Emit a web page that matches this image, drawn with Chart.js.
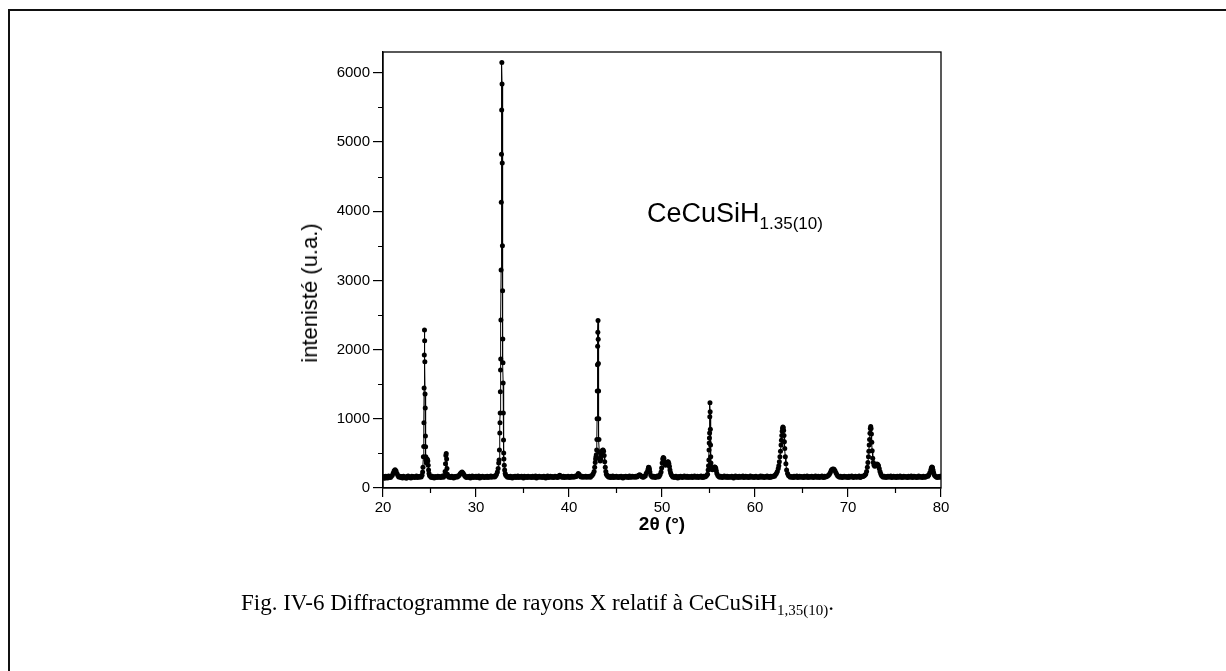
<!DOCTYPE html>
<html>
<head>
<meta charset="utf-8">
<script src="https://cdn.jsdelivr.net/npm/chart.js@4.4.1/dist/chart.umd.min.js"></script>
<style>
html,body{margin:0;padding:0;background:#fff;}
#wrap{position:relative;width:1226px;height:671px;overflow:hidden;background:#fff;}
#frame{position:absolute;left:8px;top:9px;width:1400px;height:800px;border-top:2px solid #111;border-left:2px solid #111;}
#c{position:absolute;left:0;top:0;}
#anno{position:absolute;left:647px;top:200px;font-family:"Liberation Sans",Arial,sans-serif;font-size:27px;line-height:27px;color:#000;white-space:nowrap;}
#anno span{font-size:17px;position:relative;top:7px;}
#ytitle{position:absolute;left:310px;top:293px;transform:translate(-50%,-50%) rotate(-90deg);font-family:"Liberation Sans",Arial,sans-serif;font-size:22px;line-height:22px;color:#000;white-space:nowrap;}
#caption{position:absolute;left:241px;top:591px;font-family:"Liberation Serif","Times New Roman",serif;font-size:23px;line-height:23px;color:#000;white-space:nowrap;}
#caption span.sub{font-size:15px;position:relative;top:5px;}
</style>
</head>
<body>
<div id="wrap">
  <div id="frame"></div>
  <canvas id="c" width="1226" height="671"></canvas>
  <div id="anno">CeCuSiH<span>1.35(10)</span></div>
  <div id="ytitle">intenisté (u.a.)</div>
  <div id="caption">Fig. IV-6 Diffractogramme de rayons X relatif à CeCuSiH<span class="sub">1,35(10)</span>.</div>
</div>
<script>
// ---- data ----
const twoTheta = [
  20,20.1,20.2,20.3,20.4,20.5,20.6,20.7,20.8,20.9,
  21,21.1,21.2,21.3,21.4,21.5,21.6,21.7,21.8,21.9,
  22,22.1,22.2,22.3,22.4,22.5,22.6,22.7,22.8,22.9,
  23,23.1,23.2,23.3,23.4,23.5,23.6,23.7,23.8,23.9,
  24,24.1,24.2,
  24.26,24.3,24.34,24.38,24.4,24.42,24.44,24.46,24.48,24.5,24.52,24.54,24.56,24.58,24.6,24.62,24.66,24.7,24.74,24.78,24.82,24.86,24.9,24.95,
  25,25.1,25.2,25.3,25.4,25.5,25.6,25.7,25.8,25.9,
  26,26.1,26.2,26.3,26.4,26.5,26.6,
  26.68,26.72,26.76,26.8,26.84,26.88,26.92,
  27,27.1,27.2,27.3,27.4,27.5,27.6,27.7,27.8,27.9,
  28,28.1,28.2,28.3,28.4,28.5,28.6,28.7,28.8,28.9,
  29,29.1,29.2,29.3,29.4,29.5,29.6,29.7,29.8,29.9,
  30,30.1,30.2,30.3,30.4,30.5,30.6,30.7,30.8,30.9,
  31,31.1,31.2,31.3,31.4,31.5,31.6,31.7,31.8,31.9,
  32,32.1,32.2,32.3,
  32.38,32.44,32.48,32.52,32.56,32.58,32.6,32.62,32.64,32.66,
  32.68,32.7,32.72,32.74,32.76,32.78,32.8,32.82,32.84,32.86,
  32.88,32.9,32.92,32.94,32.96,32.98,33,33.04,33.08,33.14,
  33.2,
  33.3,33.4,33.5,33.6,33.7,33.8,33.9,
  34,34.1,34.2,34.3,34.4,34.5,34.6,34.7,34.8,34.9,
  35,35.1,35.2,35.3,35.4,35.5,35.6,35.7,35.8,35.9,
  36,36.1,36.2,36.3,36.4,36.5,36.6,36.7,36.8,36.9,
  37,37.1,37.2,37.3,37.4,37.5,37.6,37.7,37.8,37.9,
  38,38.1,38.2,38.3,38.4,38.5,38.6,38.7,38.8,38.9,
  39,39.1,39.2,39.3,39.4,39.5,39.6,39.7,39.8,39.9,
  40,40.1,40.2,40.3,40.4,40.5,40.6,40.7,40.8,40.9,
  41,41.1,41.2,41.3,41.4,41.5,41.6,41.7,41.8,41.9,
  42,42.1,42.2,42.3,42.4,42.5,42.6,
  42.7,42.76,42.82,42.86,42.9,42.94,42.98,43,43.02,43.04,
  43.06,43.08,43.1,43.12,43.14,43.16,43.18,43.2,43.22,43.26,
  43.3,43.36,43.42,43.48,43.54,43.6,43.66,43.72,43.78,43.84,
  43.9,43.96,44.02,44.1,
  44.2,44.3,44.4,44.5,44.6,44.7,44.8,44.9,
  45,45.1,45.2,45.3,45.4,45.5,45.6,45.7,45.8,45.9,
  46,46.1,46.2,46.3,46.4,46.5,46.6,46.7,46.8,46.9,
  47,47.1,47.2,47.3,47.4,47.5,47.6,47.7,47.8,47.9,
  48,48.1,48.2,48.3,
  48.4,48.5,48.55,48.6,48.65,48.7,48.8,48.9,
  49,49.1,49.2,49.3,49.4,49.5,49.6,49.7,49.8,
  49.9,49.96,50.02,50.08,50.14,50.2,50.26,50.32,50.38,50.44,
  50.5,50.56,50.62,50.68,50.74,50.8,50.86,50.92,51,51.1,
  51.2,51.3,51.4,51.5,51.6,51.7,51.8,51.9,
  52,52.1,52.2,52.3,52.4,52.5,52.6,52.7,52.8,52.9,
  53,53.1,53.2,53.3,53.4,53.5,53.6,53.7,53.8,53.9,
  54,54.1,54.2,54.3,54.4,54.5,54.6,54.7,54.8,
  54.9,54.96,55,55.04,55.06,55.08,55.1,55.12,55.14,55.16,
  55.18,55.2,55.22,55.24,55.26,55.3,55.36,55.42,55.48,55.54,
  55.6,55.66,55.72,55.78,55.84,55.9,56,
  56.1,56.2,56.3,56.4,56.5,56.6,56.7,56.8,56.9,
  57,57.1,57.2,57.3,57.4,57.5,57.6,57.7,57.8,57.9,
  58,58.1,58.2,58.3,58.4,58.5,58.6,58.7,58.8,58.9,
  59,59.1,59.2,59.3,59.4,59.5,59.6,59.7,59.8,59.9,
  60,60.1,60.2,60.3,60.4,60.5,60.6,60.7,60.8,60.9,
  61,61.1,61.2,61.3,61.4,61.5,61.6,61.7,61.8,61.9,
  62,62.1,62.2,
  62.3,62.4,62.5,62.56,62.62,62.68,62.74,62.8,62.84,62.88,
  62.92,62.96,63,63.04,63.08,63.12,63.16,63.2,63.26,63.32,
  63.4,63.5,63.6,
  63.7,63.8,63.9,
  64,64.1,64.2,64.3,64.4,64.5,64.6,64.7,64.8,64.9,
  65,65.1,65.2,65.3,65.4,65.5,65.6,65.7,65.8,65.9,
  66,66.1,66.2,66.3,66.4,66.5,66.6,66.7,66.8,66.9,
  67,67.1,67.2,67.3,67.4,67.5,67.6,67.7,
  67.8,67.9,68,68.1,68.2,68.3,68.4,68.5,68.6,68.7,68.8,68.9,69,
  69.1,69.2,69.3,69.4,69.5,69.6,69.7,69.8,69.9,
  70,70.1,70.2,70.3,70.4,70.5,70.6,70.7,70.8,70.9,
  71,71.1,71.2,71.3,71.4,71.5,71.6,71.7,71.8,
  71.9,72,72.08,72.14,72.2,72.24,72.28,72.32,72.36,72.4,
  72.44,72.48,72.52,72.56,72.6,72.66,72.72,72.8,72.88,72.96,
  73.04,73.12,73.2,73.28,73.36,73.44,73.52,73.6,73.7,
  73.8,73.9,
  74,74.1,74.2,74.3,74.4,74.5,74.6,74.7,74.8,74.9,
  75,75.1,75.2,75.3,75.4,75.5,75.6,75.7,75.8,75.9,
  76,76.1,76.2,76.3,76.4,76.5,76.6,76.7,76.8,76.9,
  77,77.1,77.2,77.3,77.4,77.5,77.6,77.7,77.8,77.9,
  78,78.1,78.2,78.3,78.4,78.5,78.6,
  78.7,78.8,78.9,78.96,79.02,79.08,79.14,79.2,79.3,79.4,
  79.5,79.6,79.7,79.8,79.9,80
];
const intensity = [
  150,165,140,170,155,145,175,160,150,170,
  185,215,250,265,245,210,180,160,170,150,
  165,145,170,155,160,140,165,175,150,160,
  145,170,155,165,150,160,175,150,165,155,
  170,160,185,
  230,300,450,600,944,1445,1922,2283,2129,1826,1358,1156,751,597,452,400,360,380,420,410,390,330,260,210,
  180,165,150,170,155,145,165,160,150,170,
  155,165,150,160,175,155,180,
  240,350,470,500,420,280,200,
  170,155,165,150,170,160,145,165,155,170,
  160,175,185,205,220,230,215,195,175,160,
  150,165,155,170,145,160,175,150,165,155,
  170,150,160,175,145,165,155,170,160,150,
  165,155,170,150,165,160,175,155,165,170,
  160,175,195,230,
  280,361,405,549,795,944,1084,1392,1705,1864,
  2428,3150,4130,4822,5462,6150,5838,4696,3500,2850,
  2153,1811,1517,1084,694,506,420,330,260,210,
  185,
  170,155,165,150,170,160,145,
  165,155,170,150,160,175,150,165,155,170,
  160,145,170,155,165,150,170,160,155,165,
  150,170,155,160,175,145,165,155,170,160,
  155,165,150,170,160,145,165,175,150,160,
  170,155,165,150,160,170,155,165,150,175,
  185,175,160,155,170,150,165,160,155,170,
  160,150,165,170,155,165,160,175,165,185,
  210,195,175,160,170,155,165,160,170,155,
  165,160,170,155,175,185,205,
  240,300,370,420,452,480,550,700,1000,1400,
  1780,2050,2250,2420,2150,1800,1400,1000,700,520,
  430,390,420,470,520,545,550,530,470,380,
  300,240,200,180,
  165,155,170,150,160,175,150,165,
  155,170,160,150,165,155,170,160,145,165,
  160,170,155,165,150,175,160,155,170,160,
  165,155,170,160,175,185,190,180,165,160,
  155,170,175,210,
  230,270,300,295,270,230,185,165,
  155,170,160,150,165,175,160,170,195,
  230,290,360,420,440,430,380,340,330,340,
  355,370,380,375,350,310,260,220,190,170,
  155,165,150,170,160,145,165,155,
  170,160,150,165,175,155,160,170,150,165,
  160,155,170,150,165,175,155,160,170,150,
  165,160,175,155,150,170,160,165,180,
  200,260,320,405,549,650,723,795,1030,1233,
  1103,850,620,450,360,300,270,265,275,290,
  300,305,300,285,250,210,180,
  165,155,170,160,150,165,175,155,160,
  170,150,165,160,155,170,160,145,165,175,
  155,165,150,170,160,155,165,175,150,160,
  170,155,165,150,160,175,155,165,160,150,
  165,170,155,160,150,165,175,155,170,160,
  150,165,160,175,155,165,150,170,160,165,
  175,170,190,
  210,240,280,320,380,450,530,620,690,760,
  820,860,880,870,830,760,670,570,450,350,
  260,210,180,
  170,155,165,
  160,150,170,155,165,175,150,160,170,155,
  165,160,150,170,155,165,175,150,160,165,
  155,170,160,150,165,175,155,160,170,150,
  165,160,175,155,150,170,160,165,
  175,185,200,225,255,270,275,270,250,220,195,175,165,
  155,170,160,150,165,170,155,165,160,
  150,170,155,165,175,160,150,165,170,155,
  160,165,175,150,160,170,165,175,185,
  200,240,300,370,450,530,620,700,790,860,
  890,860,780,660,540,430,370,330,315,320,
  335,345,340,320,280,240,205,180,165,
  155,170,
  160,150,165,170,155,165,175,150,160,170,
  155,165,150,170,160,155,175,165,150,160,
  170,155,165,160,150,170,155,165,175,150,
  160,170,155,165,150,160,175,155,165,160,
  150,170,160,155,165,175,170,
  190,220,260,290,305,295,260,225,185,170,
  160,150,165,155,170,160
];
const xRange = [20, 80];
const yRange = [0, 6300];
const xMajorTicks = [20, 30, 40, 50, 60, 70, 80];
const xMinorTicks = [25, 35, 45, 55, 65, 75];
const yMajorTicks = [0, 1000, 2000, 3000, 4000, 5000, 6000];
const yMinorTicks = [500, 1500, 2500, 3500, 4500, 5500];
const xTitle = '2θ (°)';

if (twoTheta.length !== intensity.length) {
  throw new Error('length mismatch ' + twoTheta.length + ' vs ' + intensity.length);
}
const points = twoTheta.map((t, i) => ({ x: t, y: intensity[i] }));

const FONT = '"Liberation Sans", Arial, sans-serif';

const boxPlugin = {
  id: 'box',
  afterDraw(chart) {
    const { ctx, chartArea: a, scales } = chart;
    ctx.save();
    ctx.strokeStyle = '#000';
    ctx.lineWidth = 1.3;
    ctx.strokeRect(a.left, a.top, a.right - a.left, a.bottom - a.top);
    ctx.lineWidth = 1.2;
    ctx.beginPath();
    xMinorTicks.forEach(v => {
      const px = Math.round(scales.x.getPixelForValue(v)) + 0.5;
      ctx.moveTo(px, a.bottom);
      ctx.lineTo(px, a.bottom + 5);
    });
    yMinorTicks.forEach(v => {
      const py = Math.round(scales.y.getPixelForValue(v)) + 0.5;
      ctx.moveTo(a.left, py);
      ctx.lineTo(a.left - 5, py);
    });
    ctx.stroke();
    ctx.restore();
  }
};

new Chart(document.getElementById('c').getContext('2d'), {
  type: 'scatter',
  data: {
    datasets: [{
      data: points,
      showLine: true,
      borderColor: '#000',
      borderWidth: 1,
      backgroundColor: '#000',
      pointRadius: 2.5,
      pointBorderWidth: 0,
      pointBackgroundColor: '#000',
      tension: 0
    }]
  },
  options: {
    responsive: false,
    animation: false,
    devicePixelRatio: 1,
    layout: { padding: { left: 302, top: 52, right: 285, bottom: 135 } },
    plugins: { legend: { display: false }, tooltip: { enabled: false } },
    scales: {
      x: {
        type: 'linear',
        min: xRange[0], max: xRange[1],
        afterBuildTicks: s => { s.ticks = xMajorTicks.map(v => ({ value: v })); },
        ticks: { color: '#000', font: { family: FONT, size: 15 }, padding: 2, maxRotation: 0, callback: v => String(v) },
        grid: { drawOnChartArea: false, drawTicks: true, tickLength: 9, color: '#000', lineWidth: 1.2 },
        border: { display: true, color: '#000', width: 1.3 },
        title: { display: true, text: xTitle, color: '#000', font: { family: FONT, size: 19, weight: 'bold' }, padding: 0 },
        afterFit: s => { s.height = 48; }
      },
      y: {
        type: 'linear',
        min: yRange[0], max: yRange[1],
        afterBuildTicks: s => { s.ticks = yMajorTicks.map(v => ({ value: v })); },
        ticks: { color: '#000', font: { family: FONT, size: 15 }, padding: 3, callback: v => String(v) },
        grid: { drawOnChartArea: false, drawTicks: true, tickLength: 10, color: '#000', lineWidth: 1.2 },
        border: { display: true, color: '#000', width: 1.3 },
        title: { display: false },
        afterFit: s => { s.width = 81; }
      }
    }
  },
  plugins: [boxPlugin]
});
</script>
</body>
</html>
